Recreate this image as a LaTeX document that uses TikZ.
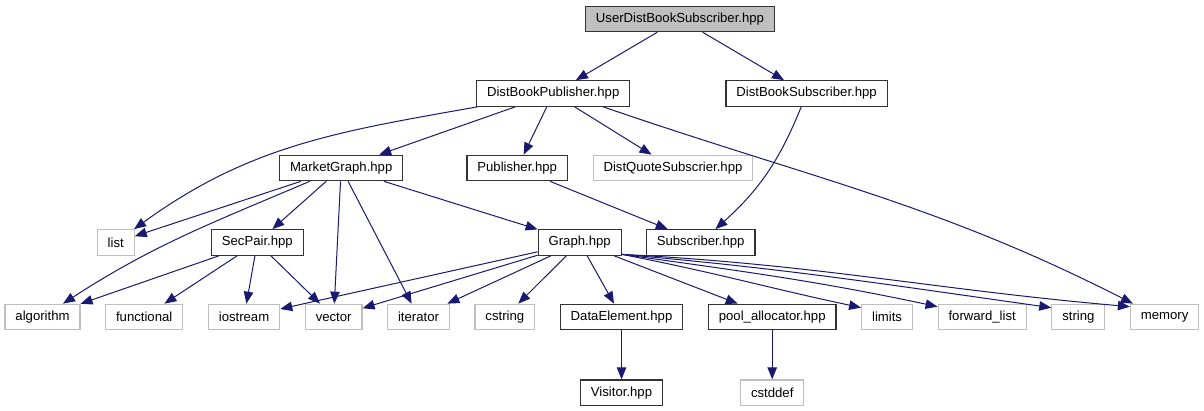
\documentclass[tikz,border=0pt]{standalone}
\usepackage{fontspec}
\setmainfont{Liberation Sans}
\usepackage{tikz}
\usetikzlibrary{arrows.meta,positioning}
\definecolor{edgeblue}{HTML}{191970}
\definecolor{greyline}{HTML}{BFBFBF}

\begin{document}
\begin{tikzpicture}[>={Triangle[length=12pt,width=9.5pt]},x=1pt,y=-1pt,
  node distance=24.5pt,
  base node/.style={rectangle,minimum height=25.5pt,inner xsep=10.4pt,
  inner ysep=0pt,line width=1.2pt,font=\fontsize{13.15}{15}\selectfont},
  file node/.style={base node,draw=black!80,fill=white},
  sys node/.style={base node,draw=greyline,fill=white},
  root node/.style={base node,draw=black!80,fill=greyline}]

  \useasboundingbox (0,0) rectangle (1204,411);

  \node[root node] (UserSub) at (680,18.9) {UserDistBookSubscriber.hpp};
  \node[file node] (DistPub) at (553.2,93.5) {DistBookPublisher.hpp};
  \node[file node] (DistSub) at (806.6,93.5) {DistBookSubscriber.hpp};
  \node[file node] (MarketGraph) at (341.2,168) {MarketGraph.hpp};
  \node[file node] (Publisher) at (517.2,168) {Publisher.hpp};
  \node[sys node] (DistQuote) [right=of Publisher] {DistQuoteSubscrier.hpp};
  \node[sys node] (List) at (115.7,242.5) {list};
  \node[file node] (SecPair) at (257.3,242.5) {SecPair.hpp};
  \node[file node] (Graph) at (579.7,242.5) {Graph.hpp};
  \node[file node] (Subscriber) [right=24pt of Graph] {Subscriber.hpp};
  \node[sys node] (Algorithm) at (42.5,317) {algorithm};
  \node[sys node] (Functional) [right=of Algorithm] {functional};
  \node[sys node] (Iostream) [right=of Functional] {iostream};
  \node[sys node] (Vector) [right=of Iostream] {vector};
  \node[sys node] (Iterator) [right=of Vector] {iterator};
  \node[sys node] (Cstring) [right=of Iterator] {cstring};
  \node[file node] (DataElem) [right=of Cstring] {DataElement.hpp};
  \node[file node] (PoolAlloc) [right=of DataElem] {pool\_allocator.hpp};
  \node[sys node] (Limits) [right=of PoolAlloc] {limits};
  \node[sys node] (FwdList) [right=of Limits] {forward\_list};
  \node[sys node] (String) [right=of FwdList] {string};
  \node[sys node] (Memory) [right=of String] {memory};
  \node[file node] (Visitor) [below=49pt of DataElem] {Visitor.hpp};
  \node[sys node] (Cstddef) [below=49pt of PoolAlloc] {cstddef};

  \path[->,color=edgeblue,line width=1pt]
    (UserSub) edge (DistPub)
    (UserSub) edge (DistSub)
    (DistPub) edge[out=190,in=36] (List)
    (DistPub) edge (MarketGraph)
    (DistPub) edge (Publisher)
    (DistPub) edge (DistQuote)
    ([xshift=50pt]DistPub.south) edge[out=-19,in=153] ([xshift=3pt]Memory.north west)
    (DistSub) edge[out=248,in=42] (Subscriber)
    (Publisher) edge (Subscriber)
    (MarketGraph) edge (List)
    (MarketGraph) edge[out=203,in=33] (Algorithm)
    (MarketGraph) edge (SecPair)
    (MarketGraph) edge (Vector)
    (MarketGraph) edge (Iterator)
    (MarketGraph) edge (Graph)
    (SecPair) edge (Algorithm)
    (SecPair) edge (Functional)
    (SecPair) edge (Iostream)
    (SecPair) edge (Vector)
    (Graph) edge (Iostream)
    (Graph) edge (Vector)
    (Graph) edge (Iterator)
    (Graph) edge (Cstring)
    (Graph) edge (DataElem)
    (Graph) edge (PoolAlloc)
    ([yshift=1.5pt]Graph.south east) edge[out=-11,in=168] ([yshift=-4pt]Limits.north west)
    ([yshift=1.5pt]Graph.south east) edge[out=-8,in=168] ([yshift=-3pt]FwdList.north west)
    ([yshift=1.5pt]Graph.south east) edge[out=-5,in=172] ([yshift=-4pt]String.north west)
    ([yshift=1.5pt]Graph.south east) edge[out=-3,in=175] ([yshift=-3pt]Memory.north west)
    (DataElem) edge (Visitor)
    (PoolAlloc) edge (Cstddef);
\end{tikzpicture}
\end{document}
